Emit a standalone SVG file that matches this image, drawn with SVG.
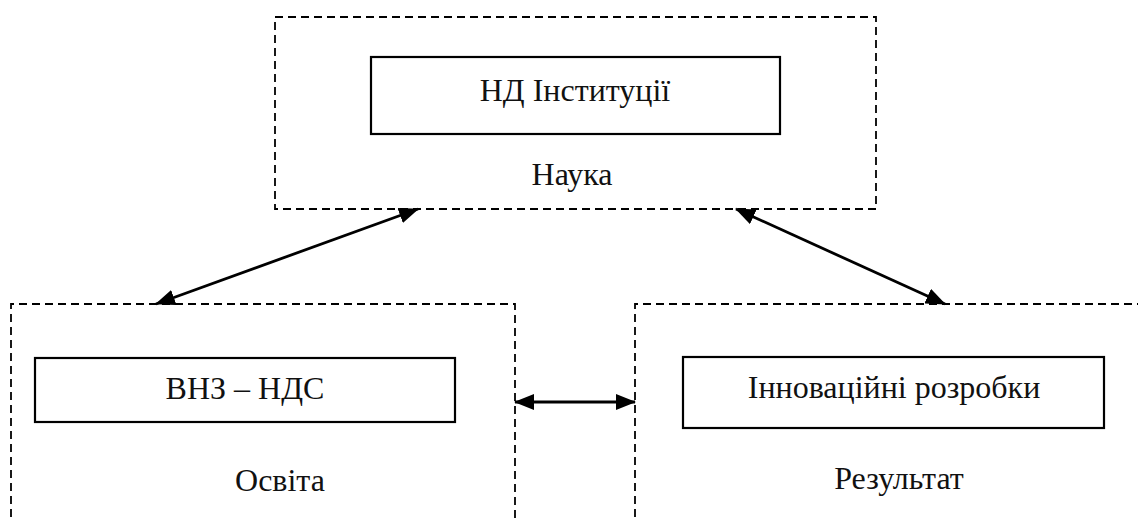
<svg xmlns="http://www.w3.org/2000/svg" width="1138" height="518" viewBox="0 0 1138 518">
  <style>
    .area { fill: none; stroke: #000; stroke-width: 1.8; stroke-dasharray: 8 5; }
    .unit { fill: #fff; stroke: #000; stroke-width: 2.2; }
    .label { font-family: "Liberation Serif", "Times New Roman", serif; font-size: 32px; fill: #111; text-anchor: middle; }
    .link { stroke: #000; stroke-width: 2.8; fill: none; marker-start: url(#head); marker-end: url(#head); }
  </style>
  <defs>
    <marker id="head" viewBox="0 0 20 16" refX="19" refY="8" markerWidth="20" markerHeight="16" markerUnits="userSpaceOnUse" orient="auto-start-reverse">
      <path d="M0,0 L20,8 L0,16 Z" fill="#000"/>
    </marker>
  </defs>

  <rect width="1138" height="518" fill="#fff"/>

  <!-- Science -->
  <g id="science">
    <rect class="area" x="275" y="17" width="601" height="192"/>
    <rect class="unit" x="371" y="57" width="409" height="77"/>
    <text class="label" x="575" y="101">НД Інституції</text>
    <text class="label" x="572" y="185">Наука</text>
  </g>

  <!-- Education -->
  <g id="education">
    <path class="area" d="M11,530 V304 H515 V530"/>
    <rect class="unit" x="35" y="358" width="420" height="64"/>
    <text class="label" x="245" y="399">ВНЗ – НДС</text>
    <text class="label" x="280" y="491">Освіта</text>
  </g>

  <!-- Result -->
  <g id="result">
    <path class="area" d="M635,530 V304 H1150"/>
    <rect class="unit" x="683" y="357" width="421" height="71"/>
    <text class="label" x="894" y="398">Інноваційні розробки</text>
    <text class="label" x="899" y="489">Результат</text>
  </g>

  <!-- Connectors -->
  <g id="connectors">
    <line class="link" x1="156" y1="304" x2="418" y2="209"/>
    <line class="link" x1="736" y1="209" x2="945" y2="304"/>
    <line class="link" x1="515" y1="402" x2="635" y2="402"/>
  </g>
</svg>
